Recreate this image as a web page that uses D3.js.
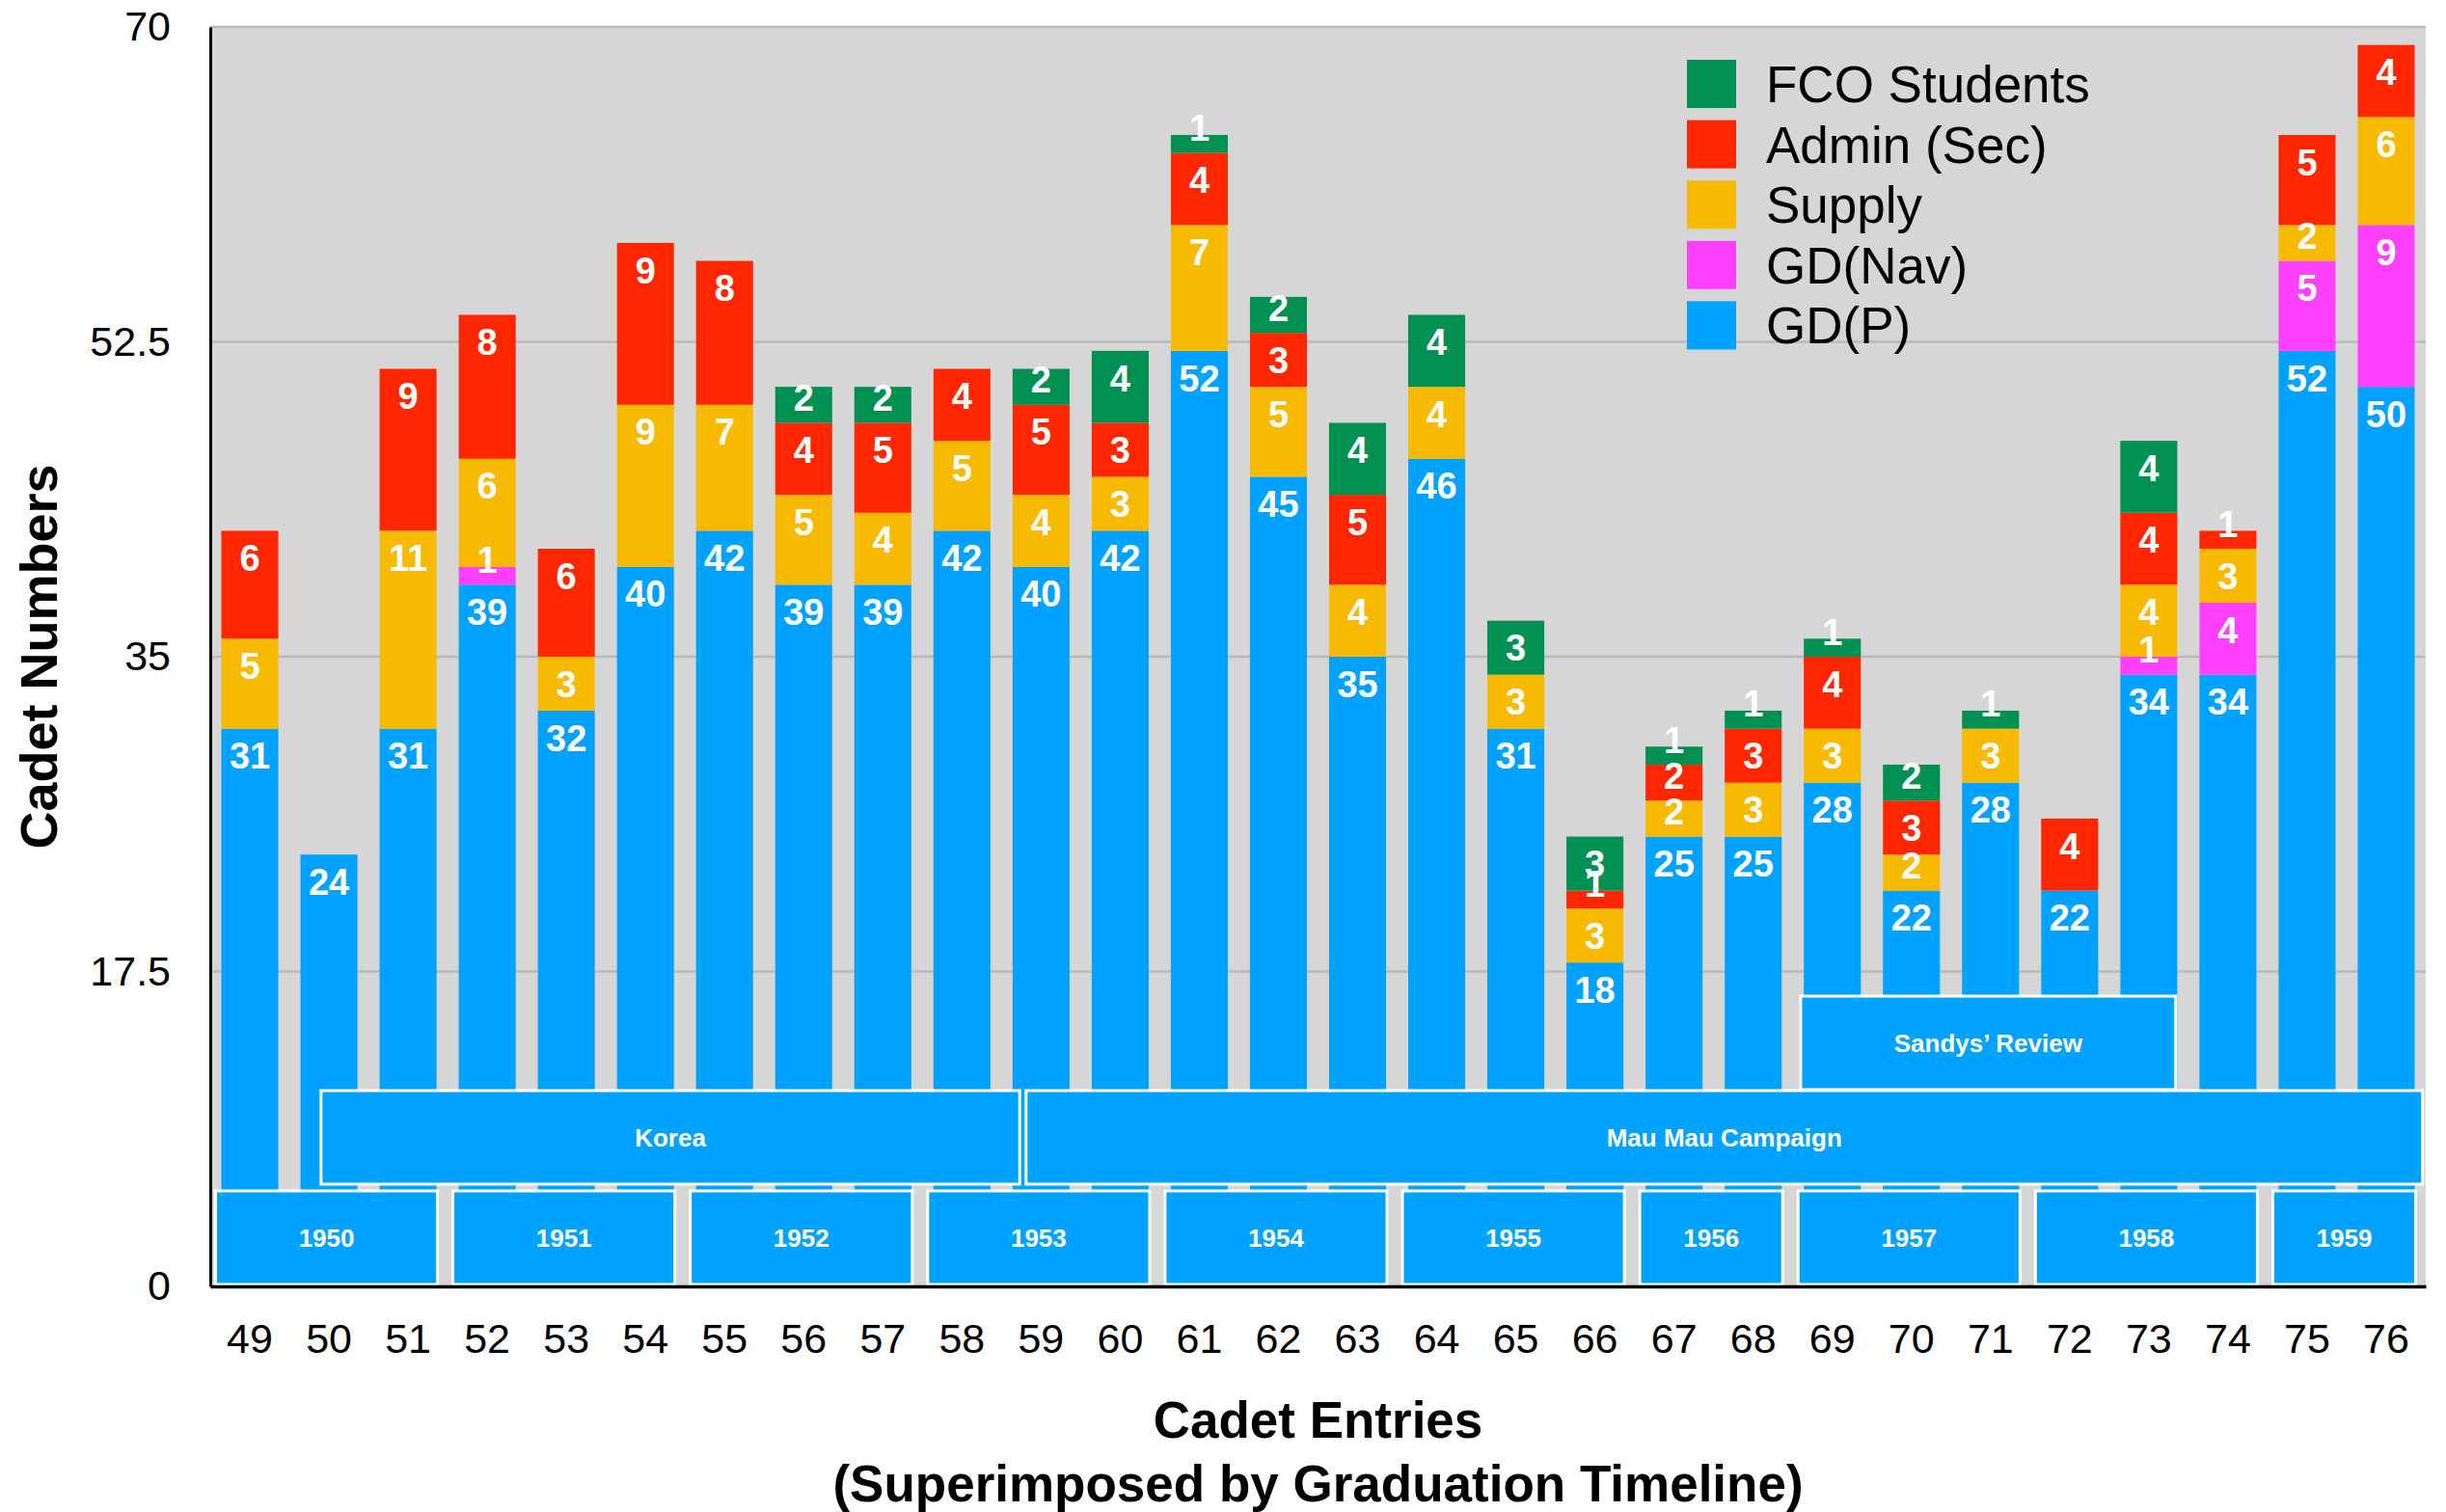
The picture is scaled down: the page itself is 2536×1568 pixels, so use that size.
<!DOCTYPE html>
<html>
<head>
<meta charset="utf-8" />
<title>Cadet Entries</title>
<style>
  body { margin: 0; background: #fff; }
  svg { display: block; font-family: "Liberation Sans", Arial, Helvetica, sans-serif; }
</style>
</head>
<body>
<svg id="chart"></svg>
<script src="https://d3js.org/d3.v7.min.js"></script>
<script>

// ---- data ----
var entries = ["49","50","51","52","53","54","55","56","57","58","59","60","61","62",
               "63","64","65","66","67","68","69","70","71","72","73","74","75","76"];
var gdP    = [31,24,31,39,32,40,42,39,39,42,40,42,52,45,35,46,31,18,25,25,28,22,28,22,34,34,52,50];
var gdNav  = [ 0, 0, 0, 1, 0, 0, 0, 0, 0, 0, 0, 0, 0, 0, 0, 0, 0, 0, 0, 0, 0, 0, 0, 0, 1, 4, 5, 9];
var supply = [ 5, 0,11, 6, 3, 9, 7, 5, 4, 5, 4, 3, 7, 5, 4, 4, 3, 3, 2, 3, 3, 2, 3, 0, 4, 3, 2, 6];
var admin  = [ 6, 0, 9, 8, 6, 9, 8, 4, 5, 4, 5, 3, 4, 3, 5, 0, 0, 1, 2, 3, 4, 3, 0, 4, 4, 1, 5, 4];
var fco    = [ 0, 0, 0, 0, 0, 0, 0, 2, 2, 0, 2, 4, 1, 2, 4, 4, 3, 3, 1, 1, 1, 2, 1, 0, 4, 0, 0, 0];

var seriesKeys   = ["gdP", "gdNav", "supply", "admin", "fco"];
var seriesLabels = ["GD(P)", "GD(Nav)", "Supply", "Admin (Sec)", "FCO Students"];
var seriesColors = ["#00a2ff", "#ff40ff", "#f8ba00", "#ff2600", "#009051"];

var yTicks = [0, 17.5, 35, 52.5, 70];

// graduation years, each covering a run of entries
var gradYears = ["1950","1951","1952","1953","1954","1955","1956","1957","1958","1959"];
var yearFrom  = ["49","52","55","58","61","64","67","69","72","75"];
var yearTo    = ["51","54","57","60","63","66","68","71","74","76"];

// events, positioned in entry-index units along the x axis
var eventNames = ["Korea", "Mau Mau Campaign", "Sandys\u2019 Review"];
var eventFrom  = [1.40, 10.31, 20.10];
var eventTo    = [10.23, 27.96, 24.84];
var eventRow   = [1, 1, 2];

// ---- layout ----
var W = 2536, H = 1568;
var pLeft = 218, pRight = 2515, pTop = 28, pBottom = 1334;

var svg = d3.select("#chart").attr("width", W).attr("height", H);

var rows = entries.map(function(e, i) {
  return { entry: e, gdP: gdP[i], gdNav: gdNav[i], supply: supply[i], admin: admin[i], fco: fco[i] };
});

var x = d3.scaleBand().domain(entries).range([pLeft, pRight]).paddingInner(0.28).paddingOuter(0.14);
var xi = d3.scaleLinear().domain([0, entries.length]).range([pLeft, pRight]);
var y = d3.scaleLinear().domain([0, 70]).range([pBottom, pTop]);
var color = d3.scaleOrdinal().domain(seriesKeys).range(seriesColors);

// plot background
svg.append("rect")
   .attr("x", pLeft).attr("y", pTop)
   .attr("width", pRight - pLeft).attr("height", pBottom - pTop)
   .attr("fill", "#d6d6d6");

// gridlines
svg.append("g").selectAll("line")
   .data(yTicks.filter(function(d) { return d > 0; }))
   .enter().append("line")
   .attr("x1", pLeft).attr("x2", pRight)
   .attr("y1", function(d) { return y(d); })
   .attr("y2", function(d) { return y(d); })
   .attr("stroke", "#b9b9b9")
   .attr("stroke-width", 2.5);

// stacked bars
var stack = d3.stack().keys(seriesKeys);
var layers = stack(rows);

var layer = svg.append("g").selectAll("g")
   .data(layers)
   .enter().append("g")
   .attr("fill", function(d) { return color(d.key); });

layer.selectAll("rect")
   .data(function(d) { return d.filter(function(s) { return s[1] > s[0]; }); })
   .enter().append("rect")
   .attr("x", function(d) { return x(d.data.entry); })
   .attr("width", x.bandwidth())
   .attr("y", function(d) { return y(d[1]); })
   .attr("height", function(d) { return y(d[0]) - y(d[1]); });

// value labels: near the top of each segment
var labels = [];
layers.forEach(function(l) {
  l.forEach(function(s) {
    if (s[1] > s[0]) labels.push({ entry: s.data.entry, v: s[1] - s[0], y0: s[0], y1: s[1] });
  });
});

svg.append("g").selectAll("text")
   .data(labels)
   .enter().append("text")
   .attr("x", function(d) { return x(d.entry) + x.bandwidth() / 2; })
   .attr("y", function(d) {
     var h = y(d.y0) - y(d.y1);
     return y(d.y1) + Math.min(28, h - 26);
   })
   .attr("dy", "0.36em")
   .attr("text-anchor", "middle")
   .attr("fill", "#fff")
   .attr("font-size", 38)
   .attr("font-weight", "bold")
   .text(function(d) { return d.v; });

// timeline boxes
var rowH = 97;
var rowTop = [1235, 1131, 1033];

var yearG = svg.append("g").selectAll("g")
   .data(gradYears)
   .enter().append("g");

yearG.append("rect")
   .attr("x", function(d, i) { return x(yearFrom[i]) - 6; })
   .attr("width", function(d, i) { return x(yearTo[i]) + x.bandwidth() + 7 - x(yearFrom[i]); })
   .attr("y", rowTop[0])
   .attr("height", rowH)
   .attr("fill", "#00a2ff")
   .attr("stroke", "#fff")
   .attr("stroke-width", 3);

yearG.append("text")
   .attr("x", function(d, i) { return (x(yearFrom[i]) - 6 + x(yearTo[i]) + x.bandwidth() + 1) / 2; })
   .attr("y", rowTop[0] + rowH / 2)
   .attr("dy", "0.36em")
   .attr("text-anchor", "middle")
   .attr("fill", "#fff")
   .attr("font-size", 26)
   .attr("font-weight", "bold")
   .text(function(d) { return d; });

var evG = svg.append("g").selectAll("g")
   .data(eventNames)
   .enter().append("g");

evG.append("rect")
   .attr("x", function(d, i) { return xi(eventFrom[i]); })
   .attr("width", function(d, i) { return xi(eventTo[i]) - xi(eventFrom[i]); })
   .attr("y", function(d, i) { return rowTop[eventRow[i]]; })
   .attr("height", rowH)
   .attr("fill", "#00a2ff")
   .attr("stroke", "#fff")
   .attr("stroke-width", 3);

evG.append("text")
   .attr("x", function(d, i) { return (xi(eventFrom[i]) + xi(eventTo[i])) / 2; })
   .attr("y", function(d, i) { return rowTop[eventRow[i]] + rowH / 2; })
   .attr("dy", "0.36em")
   .attr("text-anchor", "middle")
   .attr("fill", "#fff")
   .attr("font-size", 26)
   .attr("font-weight", "bold")
   .text(function(d) { return d; });

// axes
var yAxis = svg.append("g")
   .attr("transform", "translate(" + pLeft + ",0)")
   .call(d3.axisLeft(y).tickValues(yTicks).tickSize(0).tickPadding(41)
           .tickFormat(function(d) { return d; }));
yAxis.select(".domain").attr("stroke", "#000").attr("stroke-width", 3);
yAxis.selectAll("text").attr("font-size", 43).attr("fill", "#000")
     .attr("font-family", "'Liberation Sans', Arial, sans-serif");

var xAxis = svg.append("g")
   .attr("transform", "translate(0," + pBottom + ")")
   .call(d3.axisBottom(x).tickSize(0).tickPadding(38));
xAxis.select(".domain").attr("stroke", "#000").attr("stroke-width", 3.5);
xAxis.selectAll("text").attr("font-size", 43).attr("fill", "#000")
     .attr("font-family", "'Liberation Sans', Arial, sans-serif");

// axis titles
svg.append("text")
   .attr("transform", "translate(40," + (pTop + pBottom) / 2 + ") rotate(-90)")
   .attr("text-anchor", "middle")
   .attr("dy", "0.36em")
   .attr("font-size", 54)
   .attr("font-weight", "bold")
   .text("Cadet Numbers");

svg.append("text")
   .attr("x", (pLeft + pRight) / 2).attr("y", 1472)
   .attr("text-anchor", "middle").attr("dy", "0.36em")
   .attr("font-size", 53).attr("font-weight", "bold")
   .text("Cadet Entries");

svg.append("text")
   .attr("x", (pLeft + pRight) / 2).attr("y", 1538)
   .attr("text-anchor", "middle").attr("dy", "0.36em")
   .attr("font-size", 53).attr("font-weight", "bold")
   .text("(Superimposed by Graduation Timeline)");

// legend, top series first
var legendOrder = seriesKeys.slice().reverse();
var legend = svg.append("g").attr("transform", "translate(1749,62)");
var li = legend.selectAll("g")
   .data(legendOrder)
   .enter().append("g")
   .attr("transform", function(d, i) { return "translate(0," + i * 62.6 + ")"; });

li.append("rect")
  .attr("width", 51).attr("height", 50)
  .attr("fill", function(d) { return color(d); });

li.append("text")
  .attr("x", 82).attr("y", 25).attr("dy", "0.36em")
  .attr("font-size", 53)
  .text(function(d) { return seriesLabels[seriesKeys.indexOf(d)]; });

</script>
</body>
</html>
